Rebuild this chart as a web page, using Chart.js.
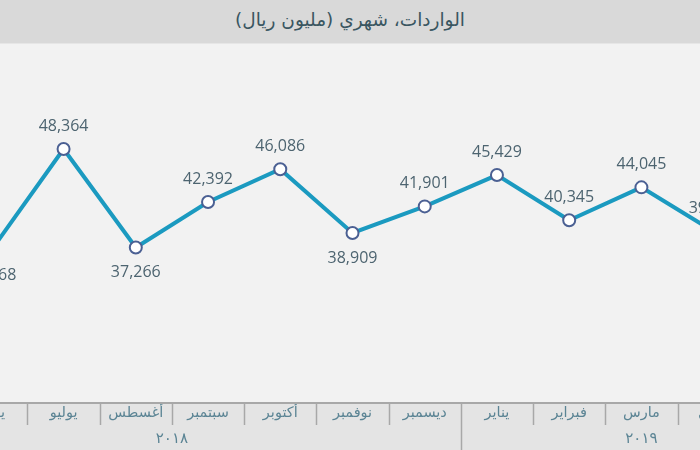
<!DOCTYPE html>
<html lang="ar">
<head>
<meta charset="utf-8">
<script src="https://cdn.jsdelivr.net/npm/chart.js@4"></script>
<style>
  html, body { margin: 0; padding: 0; width: 700px; height: 450px; overflow: hidden; background: #f2f2f2; }
  #title { position: absolute; left: 0; top: 0; width: 700px; height: 44px; background: #d9d9d9;
           font-family: "DejaVu Sans", sans-serif; font-size: 18.5px; color: #3a5661; text-align: center;
           line-height: 40px; direction: rtl; border-bottom: 1px solid #e6e6e6; box-sizing: border-box; }
  #wrap { position: absolute; left: -117px; top: 44px; width: 939px; height: 406px; }
</style>
</head>
<body>
<div id="title">الواردات، شهري (مليون ريال)</div>
<div id="wrap"><canvas id="c"></canvas></div>
<script>
// Categories: May 2018 .. May 2019 (first and last fall outside the visible crop)
const months = ["مايو", "يونيو", "يوليو", "أغسطس", "سبتمبر", "أكتوبر", "نوفمبر", "ديسمبر", "يناير", "فبراير", "مارس", "أبريل", "مايو"];
const imports = [null, 36968, 48364, 37266, 42392, 46086, 38909, 41901, 45429, 40345, 44045, 39070, null];
const yearLabels = ["٢٠١٨", "٢٠١٩"];
const yearStartIndex = [0, 8];
const yearEndIndex = [7, 12];

// label placement (below the point for these indices)
const labelBelow = [1, 3, 6];

const fmt = v => v.toLocaleString('en-US');

const decor = {
  id: 'decor',
  beforeDraw(chart) {
    const { ctx, chartArea, width, height } = chart;
    ctx.save();
    ctx.fillStyle = '#e4e4e4';
    ctx.fillRect(0, chartArea.bottom, width, height - chartArea.bottom);
    ctx.restore();
  },
  afterDraw(chart) {
    const { ctx, chartArea, height } = chart;
    const xs = chart.scales.x;
    const step = xs.getPixelForValue(1) - xs.getPixelForValue(0);
    ctx.save();
    ctx.strokeStyle = '#a8a8a8';
    ctx.lineWidth = 2;
    ctx.beginPath();
    ctx.moveTo(0, chartArea.bottom);
    ctx.lineTo(chart.width, chartArea.bottom);
    ctx.stroke();
    ctx.lineWidth = 1.5;
    for (let i = 0; i <= months.length; i++) {
      const x = Math.round(xs.getPixelForValue(0) + (i - 0.5) * step) + 0.5;
      const isYear = yearStartIndex.includes(i) || i === months.length;
      ctx.beginPath();
      ctx.moveTo(x, chartArea.bottom);
      ctx.lineTo(x, isYear ? height : chartArea.bottom + 22);
      ctx.stroke();
    }
    ctx.fillStyle = '#5b8494';
    ctx.font = '15px "DejaVu Sans", sans-serif';
    ctx.textAlign = 'center';
    ctx.textBaseline = 'middle';
    yearLabels.forEach((lab, k) => {
      const x = (xs.getPixelForValue(yearStartIndex[k]) + xs.getPixelForValue(yearEndIndex[k])) / 2;
      ctx.fillText(lab, x, chartArea.bottom + 36);
    });
    ctx.restore();
  },
  afterDatasetsDraw(chart) {
    const { ctx } = chart;
    const meta = chart.getDatasetMeta(0);
    ctx.save();
    ctx.fillStyle = '#4d6470';
    ctx.font = '16px "Open Sans", "DejaVu Sans", sans-serif';
    ctx.textAlign = 'center';
    ctx.textBaseline = 'middle';
    meta.data.forEach((pt, i) => {
      const v = imports[i];
      if (v === null) return;
      const below = labelBelow.includes(i);
      ctx.fillText(fmt(v), pt.x, below ? pt.y + 25 : pt.y - 23);
    });
    ctx.restore();
  }
};

new Chart(document.getElementById('c'), {
  type: 'line',
  data: {
    labels: months,
    datasets: [{
      data: imports,
      borderColor: '#1b9ac0',
      borderWidth: 4,
      tension: 0,
      pointRadius: 6,
      pointHoverRadius: 6,
      pointBorderWidth: 2,
      pointBorderColor: '#4b6093',
      pointBackgroundColor: '#ffffff',
      spanGaps: false,
      clip: false
    }]
  },
  options: {
    responsive: true,
    maintainAspectRatio: false,
    animation: false,
    devicePixelRatio: 1,
    layout: { padding: 0, autoPadding: false },
    plugins: { legend: { display: false }, tooltip: { enabled: false }, title: { display: false } },
    scales: {
      x: {
        type: 'category',
        offset: true,
        grid: { display: false, drawTicks: false },
        border: { display: false },
        ticks: {
          color: '#5b8494',
          font: { family: '"DejaVu Sans", sans-serif', size: 14.5 },
          padding: 2,
          maxRotation: 0,
          autoSkip: false
        },
        afterFit(scale) { scale.height = 47; }
      },
      y: {
        display: false,
        min: 19760,
        max: 60188
      }
    }
  },
  plugins: [decor]
});
</script>
</body>
</html>
